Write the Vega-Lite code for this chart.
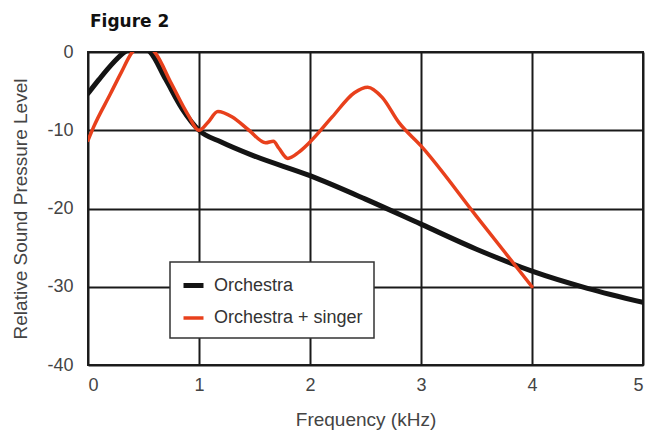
{
  "$schema": "https://vega.github.io/schema/vega-lite/v6.json",
  "width": 555,
  "height": 313,
  "autosize": {"type": "none"},
  "padding": {"left": 88, "top": 52, "right": 6, "bottom": 65},
  "background": "white",
  "title": {
    "text": "Figure 2",
    "anchor": "start",
    "frame": "group",
    "fontSize": 17,
    "font": "DejaVu Sans",
    "fontWeight": "bold",
    "color": "#111",
    "offset": 12,
    "dx": 2
  },
  "data": {
    "values": [
      {"f": 0, "level": -5.3, "series": "Orchestra"},
      {"f": 0.1, "level": -3.5, "series": "Orchestra"},
      {"f": 0.2, "level": -1.8, "series": "Orchestra"},
      {"f": 0.33, "level": 0, "series": "Orchestra"},
      {"f": 0.45, "level": 0.8, "series": "Orchestra"},
      {"f": 0.56, "level": 0, "series": "Orchestra"},
      {"f": 0.7, "level": -3.5, "series": "Orchestra"},
      {"f": 0.85, "level": -7.3, "series": "Orchestra"},
      {"f": 1.0, "level": -10, "series": "Orchestra"},
      {"f": 1.2, "level": -11.5, "series": "Orchestra"},
      {"f": 1.5, "level": -13.3, "series": "Orchestra"},
      {"f": 2.0, "level": -15.8, "series": "Orchestra"},
      {"f": 2.5, "level": -18.8, "series": "Orchestra"},
      {"f": 3.0, "level": -22, "series": "Orchestra"},
      {"f": 3.5, "level": -25.2, "series": "Orchestra"},
      {"f": 4.0, "level": -28, "series": "Orchestra"},
      {"f": 4.5, "level": -30.2, "series": "Orchestra"},
      {"f": 5.0, "level": -32, "series": "Orchestra"},
      {"f": 0, "level": -11.3, "series": "Orchestra + singer"},
      {"f": 0.05, "level": -9.6, "series": "Orchestra + singer"},
      {"f": 0.2, "level": -5.4, "series": "Orchestra + singer"},
      {"f": 0.3, "level": -2.6, "series": "Orchestra + singer"},
      {"f": 0.4, "level": 0, "series": "Orchestra + singer"},
      {"f": 0.5, "level": 0.8, "series": "Orchestra + singer"},
      {"f": 0.6, "level": 0, "series": "Orchestra + singer"},
      {"f": 0.75, "level": -4, "series": "Orchestra + singer"},
      {"f": 0.9, "level": -8, "series": "Orchestra + singer"},
      {"f": 1.0, "level": -10, "series": "Orchestra + singer"},
      {"f": 1.08, "level": -9, "series": "Orchestra + singer"},
      {"f": 1.17, "level": -7.6, "series": "Orchestra + singer"},
      {"f": 1.3, "level": -8.3, "series": "Orchestra + singer"},
      {"f": 1.45, "level": -10, "series": "Orchestra + singer"},
      {"f": 1.6, "level": -11.6, "series": "Orchestra + singer"},
      {"f": 1.67, "level": -11.4, "series": "Orchestra + singer"},
      {"f": 1.72, "level": -12.3, "series": "Orchestra + singer"},
      {"f": 1.8, "level": -13.6, "series": "Orchestra + singer"},
      {"f": 1.9, "level": -12.8, "series": "Orchestra + singer"},
      {"f": 2.0, "level": -11.5, "series": "Orchestra + singer"},
      {"f": 2.2, "level": -8.3, "series": "Orchestra + singer"},
      {"f": 2.4, "level": -5.2, "series": "Orchestra + singer"},
      {"f": 2.52, "level": -4.5, "series": "Orchestra + singer"},
      {"f": 2.65, "level": -5.8, "series": "Orchestra + singer"},
      {"f": 2.8, "level": -9, "series": "Orchestra + singer"},
      {"f": 3.0, "level": -12, "series": "Orchestra + singer"},
      {"f": 3.5, "level": -21, "series": "Orchestra + singer"},
      {"f": 4.0, "level": -30, "series": "Orchestra + singer"}
    ]
  },
  "mark": {"type": "line", "interpolate": "monotone", "clip": true, "strokeCap": "round", "strokeJoin": "round"},
  "encoding": {
    "x": {
      "field": "f",
      "type": "quantitative",
      "scale": {"domain": [0, 5], "nice": false},
      "axis": {
        "title": "Frequency (kHz)",
        "values": [0, 1, 2, 3, 4, 5],
        "titleY": 45,
        "labelPadding": 11
      }
    },
    "y": {
      "field": "level",
      "type": "quantitative",
      "scale": {"domain": [-40, 0], "nice": false},
      "axis": {
        "title": "Relative Sound Pressure Level",
        "values": [0, -10, -20, -30, -40],
        "labelExpr": "'' + datum.value",
        "titleX": -58,
        "labelPadding": 15
      }
    },
    "color": {
      "field": "series",
      "type": "nominal",
      "scale": {"domain": ["Orchestra", "Orchestra + singer"], "range": ["#141414", "#e8401c"]},
      "legend": {
        "title": null,
        "orient": "none",
        "legendX": 82,
        "legendY": 210
      }
    },
    "strokeWidth": {
      "field": "series",
      "type": "nominal",
      "scale": {"domain": ["Orchestra", "Orchestra + singer"], "range": [5, 3.5]},
      "legend": null
    }
  },
  "config": {
    "font": "Liberation Sans",
    "view": {"stroke": "#222", "strokeWidth": 2},
    "axis": {
      "grid": true,
      "gridColor": "#1a1a1a",
      "gridWidth": 2,
      "gridOpacity": 1,
      "domain": false,
      "ticks": false,
      "labelFontSize": 18,
      "labelColor": "#444",
      "titleFontSize": 19,
      "titleFontWeight": "normal",
      "titleColor": "#444",
      "labelFont": "Liberation Sans",
      "titleFont": "Liberation Sans"
    },
    "legend": {
      "strokeColor": "#333",
      "strokeWidth": 1.5,
      "fillColor": "white",
      "padding": 11,
      "rowPadding": 10,
      "symbolType": "stroke",
      "symbolSize": 400,
      "symbolStrokeWidth": 2.5,
      "labelFontSize": 18,
      "labelColor": "#333",
      "labelOffset": 8,
      "labelFont": "Liberation Sans"
    }
  }
}
